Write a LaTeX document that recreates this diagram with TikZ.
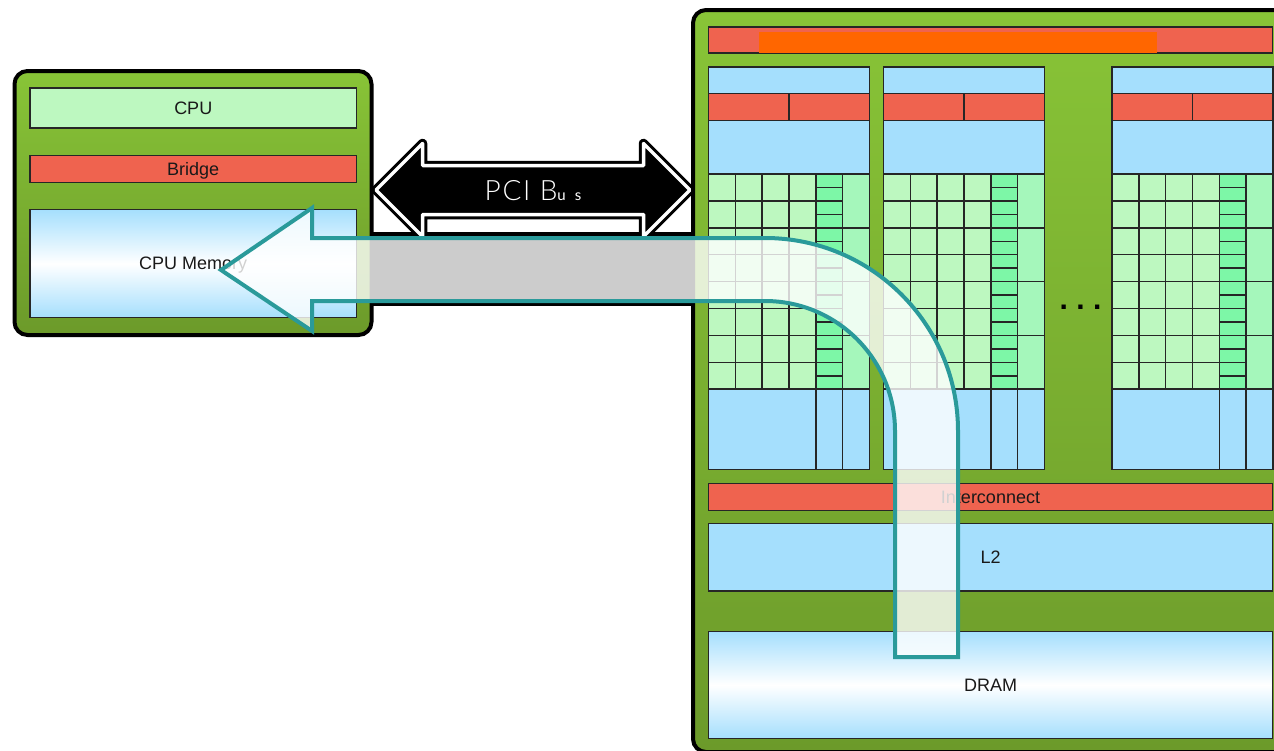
\documentclass[tikz,border=0pt]{standalone}
\usepackage{fontspec}
\setmainfont{Liberation Sans}
\newfontfamily\busfont{Lato Light}
\newfontfamily\busbold{Lato}
\usepackage{tikz}
\usetikzlibrary{shapes,arrows,positioning,calc}

\definecolor{boardtop}{HTML}{88C437}
\definecolor{boardlow}{HTML}{6C9A2A}
\definecolor{litegreen}{HTML}{BDF8C0}
\definecolor{midgreen}{HTML}{A5F7BB}
\definecolor{deepgreen}{HTML}{7DF7A7}
\definecolor{redbar}{HTML}{EF634F}
\definecolor{cacheblue}{HTML}{A5DFFD}
\definecolor{hotbar}{HTML}{FF6600}
\definecolor{flowteal}{HTML}{2A9A9A}

\begin{document}
\begin{tikzpicture}[x=1pt, y=-1pt,
    board/.style={rectangle, draw=black, line width=4, rounded corners=13, top color=boardtop, bottom color=boardlow, anchor=north west, inner sep=0, outer sep=0},
    unit/.style={rectangle, draw=black!85, line width=1.5, anchor=north west, inner sep=0, outer sep=0, text height=12.6, text depth=0, text=black!90, font=\fontsize{18}{20}\selectfont},
    cell/.style={unit, minimum width=26.83, minimum height=26.9},
    fade/.style={unit, top color=cacheblue, bottom color=cacheblue, middle color=white}]
    \useasboundingbox (0,0) rectangle (1274,750);
    \clip (0,0) rectangle (1274,750);

    % Bus backing
    \node (backing) [rectangle, fill=black, anchor=north west, inner sep=0, outer sep=0, minimum width=322, minimum height=74] at (371.5,232) {};

    % Host
    \node (host) [board, minimum width=357, minimum height=264] at (14.5,71) {};
    \node (cpu) [unit, fill=litegreen, minimum width=326.5, minimum height=40] at (30,88) {CPU};
    \node (bridge) [unit, fill=redbar, minimum width=326.5, minimum height=27, below=27.5pt of cpu] {Bridge};
    \node (cpumem) [fade, minimum width=326.5, minimum height=108, below=27pt of bridge] {CPU Memory};

    % Bus
    \node (pci) [double arrow, double arrow tip angle=90, double arrow head extend=22, minimum height=314, minimum width=90, inner xsep=0, inner ysep=13, outer sep=0, text height=20, text depth=0, fill=black, draw=black, double=white, double distance=3.5, line width=3, line join=round, text=white] at (533,190) {\busfont\addfontfeature{LetterSpace=6}\fontsize{28}{28}\selectfont PCI B{\busbold\addfontfeature{LetterSpace=60}\fontsize{15}{15}\selectfont us}};

    % Card
    \node (card) [board, minimum width=620, minimum height=742] at (693,10) {};
    \node (hostif) [unit, fill=redbar, minimum width=564, minimum height=26] at (708.5,27) {};
    \node (hostifhot) [rectangle, fill=hotbar, anchor=north west, inner sep=0, outer sep=0, minimum width=398, minimum height=20.5] at (759,32) {};

    % Core columns
    \foreach \col/\cx in {a/708.5, b/883.5, c/1112} {
        \node (\col-top) [unit, fill=cacheblue, minimum width=161, minimum height=26.5] at (\cx,67) {};
        \node (\col-redl) [unit, fill=redbar, minimum width=80.5, minimum height=27, below right=0pt of \col-top.south west] {};
        \node (\col-redr) [unit, fill=redbar, minimum width=80.5, minimum height=27, right=0pt of \col-redl] {};
        \node (\col-mid) [unit, fill=cacheblue, minimum width=161, minimum height=53.5, below right=0pt of \col-redl.south west] {};
        \foreach \r in {0,...,7}
            \foreach \c in {0,...,3}
                \node (\col-g\r\c) [cell, fill=litegreen] at ({\cx+\c*26.83},{174+\r*26.9}) {};
        \foreach \r in {0,...,15}
            \node (\col-s\r) [cell, fill=deepgreen, minimum height=13.45] at ({\cx+107.33},{174+\r*13.45}) {};
        \foreach \r in {0,...,3}
            \node (\col-w\r) [cell, fill=midgreen, minimum height=53.8] at ({\cx+134.17},{174+\r*53.8}) {};
        \node (\col-low) [unit, fill=cacheblue, minimum width=107.33, minimum height=80.5] at (\cx,389.2) {};
        \node (\col-lowa) [unit, fill=cacheblue, minimum width=26.83, minimum height=80.5, right=0pt of \col-low] {};
        \node (\col-lowb) [unit, fill=cacheblue, minimum width=26.83, minimum height=80.5, right=0pt of \col-lowa] {};
    }
    \node (more) [anchor=base, inner sep=0, font=\fontsize{30}{30}\selectfont\bfseries\frenchspacing] at (1080.5,309) {. . .};

    % Shared blocks
    \node (inter) [unit, fill=redbar, minimum width=564, minimum height=27] at (708.5,483.5) {Interconnect};
    \node (ltwo) [unit, fill=cacheblue, minimum width=564, minimum height=67.5, below=13pt of inter] {L2};
    \node (dram) [fade, minimum width=564, minimum height=107, below=40.5pt of ltwo] {DRAM};

    % Transfer
    \coordinate (memtip) at (221,270);
    \filldraw [draw=flowteal, line width=4, line join=miter, fill=white, fill opacity=0.8]
        (memtip) -- ++(91,-62) -- ++(0,30) -- ++(453,0)
        arc [start angle=-90, end angle=0, radius=193] -- ++(0,226) -- ++(-63,0) -- ++(0,-226)
        arc [start angle=0, end angle=-90, radius=130] -- ++(-453,0) -- ++(0,30) -- cycle;
\end{tikzpicture}
\end{document}
